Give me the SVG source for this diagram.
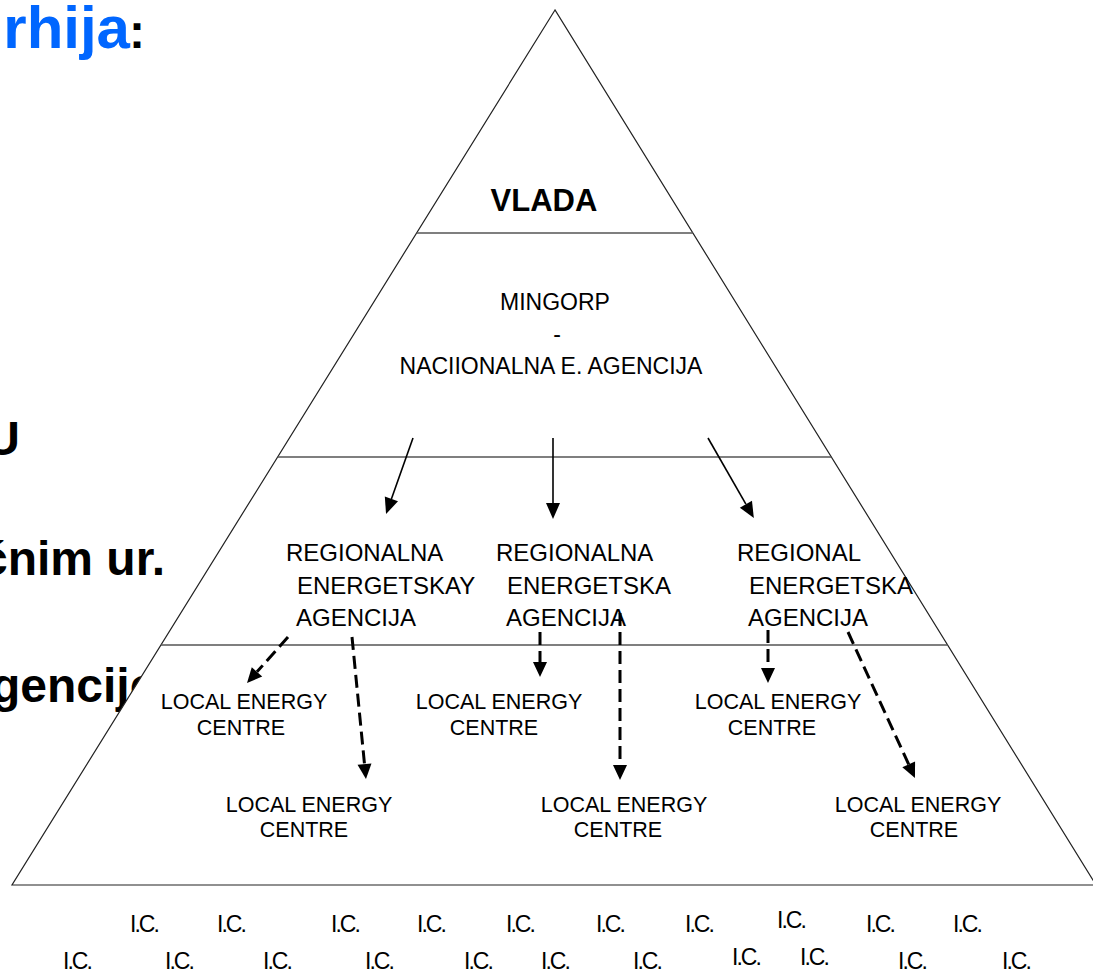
<svg xmlns="http://www.w3.org/2000/svg" width="1093" height="973" viewBox="0 0 1093 973">
<defs>
<style>
text{font-family:"Liberation Sans",Arial,Helvetica,sans-serif;fill:#000}
.big{font-size:48px;font-weight:bold}
.ttl{font-size:60px;font-weight:bold;fill:#0066ff}
.reg{font-size:24px}
.loc{font-size:21.5px}
.ic{font-size:23px;letter-spacing:-2px}
.mid{font-size:23px}
.edge{fill:#fff;stroke:#222;stroke-width:1.2}
.hl{stroke:#555;stroke-width:1.5;fill:none}
.sol{stroke:#000;stroke-width:1.6;fill:none}
.dsh{stroke:#000;stroke-width:3;stroke-dasharray:13 6;fill:none}
</style>
<marker id="ah" markerUnits="userSpaceOnUse" orient="auto" refX="0" refY="0" markerWidth="20" markerHeight="20" overflow="visible"><path d="M0,-7 L16,0 L0,7 z" fill="#000"/></marker>
<marker id="ahd" markerUnits="userSpaceOnUse" orient="auto" refX="0" refY="0" markerWidth="20" markerHeight="20" overflow="visible"><path d="M0,-7 L15,0 L0,7 z" fill="#000"/></marker>
</defs>
<rect width="1093" height="973" fill="#fff"/>
<g id="side-text">
<text class="ttl" x="130" y="48" text-anchor="end">rhija</text>
<text class="big" x="129" y="48">:</text>
<text class="big" x="20" y="455" text-anchor="end">U</text>
<text class="big" x="165" y="575" text-anchor="end">ćnim ur.</text>
<text class="big" x="-9" y="702">gencije</text>
</g>
<g id="pyramid">
<polygon class="edge" points="555,10 12,885 1096,885"/>
<line class="hl" x1="416.6" y1="233" x2="692.9" y2="233"/>
<line class="hl" x1="277.6" y1="457" x2="831.4" y2="457"/>
<line class="hl" x1="161" y1="645" x2="947.6" y2="645"/>
</g>
<g id="vlada"><text x="544" y="211" text-anchor="middle" style="font-size:31px;font-weight:bold">VLADA</text></g>
<g id="mingorp">
<text class="mid" x="555" y="310" text-anchor="middle">MINGORP</text>
<text class="mid" x="557" y="342" text-anchor="middle">-</text>
<text class="mid" x="551" y="374" text-anchor="middle">NACIIONALNA E. AGENCIJA</text>
</g>
<g id="rea1"><text class="reg" x="286" y="561">REGIONALNA</text><text class="reg" x="297" y="594">ENERGETSKAY</text><text class="reg" x="296" y="626">AGENCIJA</text></g>
<g id="rea2"><text class="reg" x="496" y="561">REGIONALNA</text><text class="reg" x="507" y="594">ENERGETSKA</text><text class="reg" x="506" y="626">AGENCIJA</text></g>
<g id="rea3"><text class="reg" x="737" y="561">REGIONAL</text><text class="reg" x="749" y="594">ENERGETSKA</text><text class="reg" x="748" y="626">AGENCIJA</text></g>
<g id="lec1"><text class="loc" x="244" y="709" text-anchor="middle">LOCAL ENERGY</text><text class="loc" x="241" y="735" text-anchor="middle">CENTRE</text></g>
<g id="lec2"><text class="loc" x="499" y="709" text-anchor="middle">LOCAL ENERGY</text><text class="loc" x="494" y="735" text-anchor="middle">CENTRE</text></g>
<g id="lec3"><text class="loc" x="778" y="709" text-anchor="middle">LOCAL ENERGY</text><text class="loc" x="772" y="735" text-anchor="middle">CENTRE</text></g>
<g id="lec4"><text class="loc" x="309" y="812" text-anchor="middle">LOCAL ENERGY</text><text class="loc" x="304" y="837" text-anchor="middle">CENTRE</text></g>
<g id="lec5"><text class="loc" x="624" y="812" text-anchor="middle">LOCAL ENERGY</text><text class="loc" x="618" y="837" text-anchor="middle">CENTRE</text></g>
<g id="lec6"><text class="loc" x="918" y="812" text-anchor="middle">LOCAL ENERGY</text><text class="loc" x="914" y="837" text-anchor="middle">CENTRE</text></g>
<g id="connectors">
<line class="sol" x1="413" y1="438" x2="391.4" y2="498.9" marker-end="url(#ah)"/>
<line class="sol" x1="553" y1="438" x2="553" y2="503" marker-end="url(#ah)"/>
<line class="sol" x1="708" y1="438" x2="745.9" y2="504.2" marker-end="url(#ah)"/>
<line class="dsh" x1="288" y1="637" x2="257" y2="671.8" marker-end="url(#ahd)"/>
<line class="dsh" x1="352" y1="637" x2="364.5" y2="764.1" marker-end="url(#ahd)"/>
<line class="dsh" x1="540" y1="632" x2="540" y2="662" marker-end="url(#ahd)"/>
<line class="dsh" x1="620" y1="613" x2="620" y2="765" marker-end="url(#ahd)"/>
<line class="dsh" x1="768" y1="630" x2="768" y2="668" marker-end="url(#ahd)"/>
<line class="dsh" x1="848" y1="632" x2="908.7" y2="764.4" marker-end="url(#ahd)"/>
</g>
<g id="ic-row1">
<text class="ic" x="130" y="932">I.C.</text>
<text class="ic" x="217" y="932">I.C.</text>
<text class="ic" x="331" y="932">I.C.</text>
<text class="ic" x="417" y="932">I.C.</text>
<text class="ic" x="506" y="932">I.C.</text>
<text class="ic" x="596" y="932">I.C.</text>
<text class="ic" x="685" y="932">I.C.</text>
<text class="ic" x="777" y="928">I.C.</text>
<text class="ic" x="866" y="932">I.C.</text>
<text class="ic" x="953" y="932">I.C.</text>
</g>
<g id="ic-row2">
<text class="ic" x="63" y="969">I.C.</text>
<text class="ic" x="165" y="969">I.C.</text>
<text class="ic" x="263" y="969">I.C.</text>
<text class="ic" x="365" y="969">I.C.</text>
<text class="ic" x="464" y="969">I.C.</text>
<text class="ic" x="541" y="969">I.C.</text>
<text class="ic" x="633" y="969">I.C.</text>
<text class="ic" x="732" y="965">I.C.</text>
<text class="ic" x="800" y="965">I.C.</text>
<text class="ic" x="898" y="969">I.C.</text>
<text class="ic" x="1002" y="969">I.C.</text>
</g>
</svg>
